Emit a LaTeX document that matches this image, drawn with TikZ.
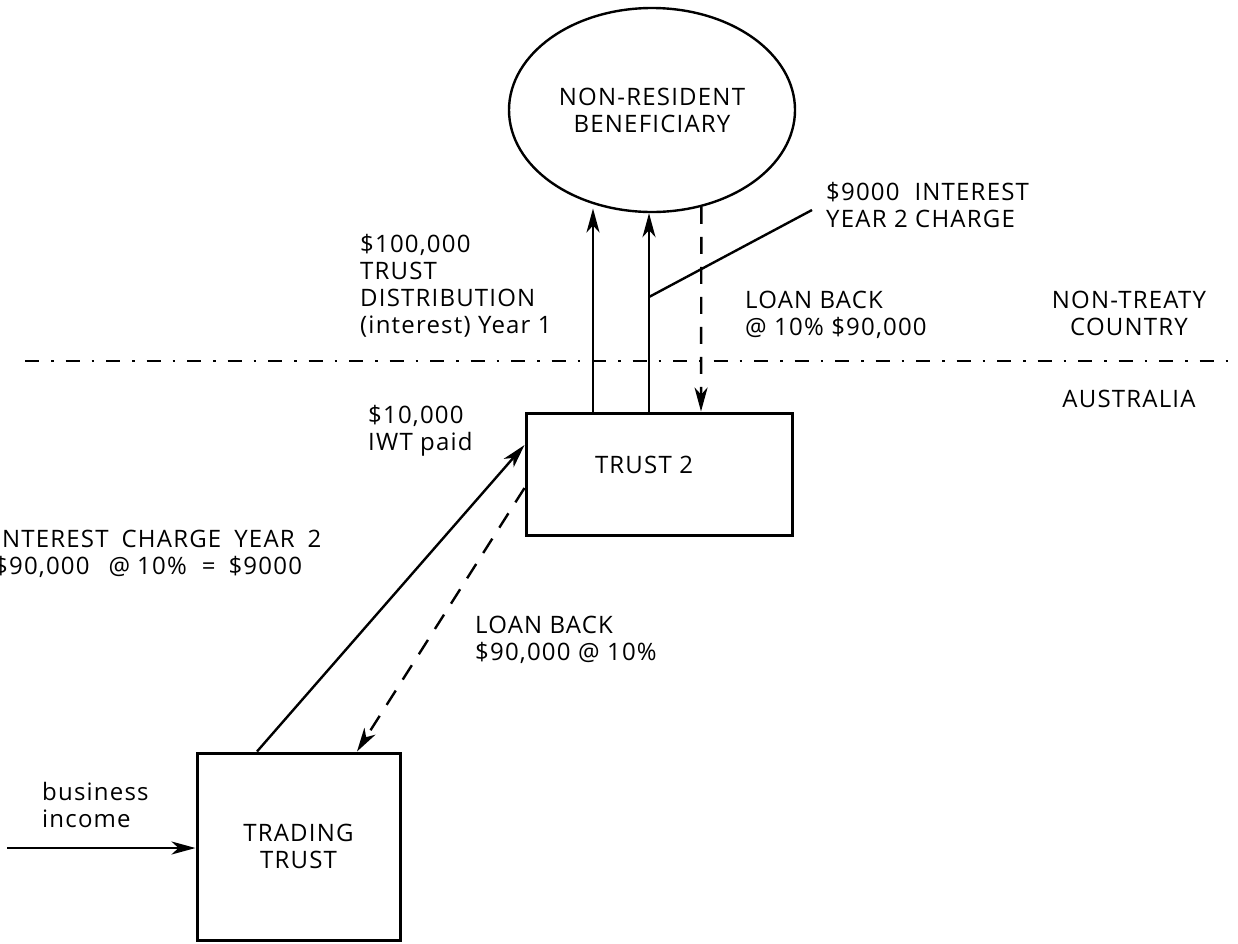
\documentclass[tikz,border=0pt]{standalone}
\usepackage{fontspec}
\setmainfont{Open Sans}[LetterSpace=5]
\usetikzlibrary{shapes.geometric,arrows.meta}

\begin{document}
\begin{tikzpicture}[x=1pt,y=-1pt,
  lab/.style={font=\fontsize{24}{27}\selectfont, inner sep=0pt, align=left},
  flow/.style={line width=2.4pt, -{Stealth[length=24pt,width=13pt,inset=7pt]}},
  loan/.style={flow, dash pattern=on 17pt off 13pt},
  boxed/.style={draw, line width=3pt, rectangle},
  ]
\useasboundingbox (0,0) rectangle (1238,943);
\clip (0,0) rectangle (1238,943);

% parties
\node[draw, line width=2.4pt, ellipse, minimum width=286pt, minimum height=204pt,
      lab, align=center] (nrb) at (652,110) {NON-RESIDENT\\BENEFICIARY};
\node[boxed, minimum width=266pt, minimum height=122pt] (t2) at (659,474) {};
\node[lab] (t2txt) at (644,465) {TRUST 2};
\node[boxed, minimum width=203pt, minimum height=187pt, lab, align=center]
      (tt) at (298.5,846.5) {TRADING\\TRUST};

% border between the two countries
\coordinate (bl) at (25,361);
\coordinate (br) at (1238,361);
\draw[line width=2.5pt, dash pattern=on 14pt off 12pt on 2.5pt off 12pt] (bl) -- (br);

% flows between Trust 2 and the beneficiary
\draw[flow] ([xshift=-66pt]t2.north) -- ++(0,-203);
\draw[flow] ([xshift=-10pt]t2.north) -- ([xshift=-10pt]t2.north |- nrb.south);
\draw[loan] (nrb.-63.2) -- ([xshift=42pt]t2.north);
\coordinate (a2) at (649,297);
\coordinate (lead) at (812,210);
\draw[line width=2.4pt] (a2) -- (lead);

% flows between the trading trust and Trust 2
\draw[flow] ([xshift=-41.5pt]tt.north) -- ([yshift=29pt]t2.west);
\draw[loan] ([yshift=-14pt]t2.west) -- ([xshift=58.5pt]tt.north);

% income into the trading trust
\coordinate (bi) at (7,848);
\draw[flow] (bi) -- (tt.west |- bi);

% labels (anchored at the baseline of their last line)
\node[lab, anchor=base west] (l9000) at (826,227) {\$9000\ \ INTEREST\\YEAR 2 CHARGE};
\node[lab, anchor=base west] (lloan1) at (745,335) {LOAN BACK\\@ 10\% \$90,000};
\node[lab, align=center, anchor=base] (lntc) at (1129,335) {NON-TREATY\\COUNTRY};
\node[lab, anchor=base] (laus) at (1129,407) {AUSTRALIA};
\node[lab, anchor=base west] (ldist) at (360,333) {\$100,000\\TRUST\\DISTRIBUTION\\(interest) Year 1};
\node[lab, anchor=base west] (liwt) at (368,450) {\$10,000\\IWT paid};
\node[lab, anchor=base west] (lint) at (-6,574)
  {INTEREST\hspace{13pt}CHARGE\hspace{13pt}YEAR\hspace{13pt}2\\\$90,000\hspace{19pt}@\hspace{7pt}10\%\hspace{15pt}=\hspace{13pt}\$9000};
\node[lab, anchor=base west] (lloan2) at (475,660) {LOAN BACK\\\$90,000 @ 10\%};
\node[lab, anchor=base west] (lbus) at (42,827) {business\\income};
\end{tikzpicture}
\end{document}
